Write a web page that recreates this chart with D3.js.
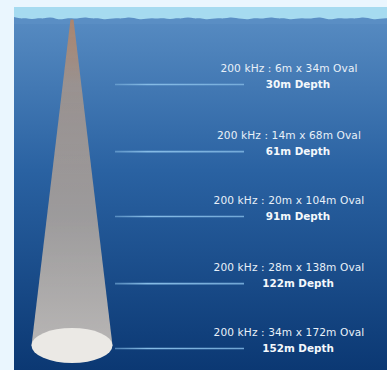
<!DOCTYPE html>
<html><head><meta charset="utf-8">
<script src="https://cdn.jsdelivr.net/npm/d3@7"></script>
<style>
html,body{margin:0;padding:0;background:#eaf6fe;}
svg{display:block;}
</style></head>
<body>
<script>
const depths = [30, 61, 91, 122, 152];
const ovalWidths = [6, 14, 20, 28, 34];
const ovalLengths = [34, 68, 104, 138, 172];
const frequency = "200 kHz";

const W = 387, H = 370;
const svg = d3.select("body").append("svg").attr("width", W).attr("height", H);
const defs = svg.append("defs");

const bg = defs.append("linearGradient").attr("id","sea").attr("x1",0).attr("y1",0).attr("x2",0).attr("y2",1);
bg.append("stop").attr("offset","0%").attr("stop-color","#5a8ec4");
bg.append("stop").attr("offset","45%").attr("stop-color","#2a62a2");
bg.append("stop").attr("offset","100%").attr("stop-color","#0b3873");

const beamG = defs.append("linearGradient").attr("id","beam").attr("x1",0).attr("y1",0).attr("x2",0).attr("y2",1);
beamG.append("stop").attr("offset","0%").attr("stop-color","#c0845a").attr("stop-opacity",0.8);
beamG.append("stop").attr("offset","20%").attr("stop-color","#a8968a").attr("stop-opacity",0.85);
beamG.append("stop").attr("offset","60%").attr("stop-color","#aaa29c").attr("stop-opacity",0.9);
beamG.append("stop").attr("offset","100%").attr("stop-color","#c6c0ba").attr("stop-opacity",0.92);

const lx1 = 115, lx2 = 244;
const lineG = defs.append("linearGradient").attr("id","lg").attr("gradientUnits","userSpaceOnUse")
  .attr("x1",lx1).attr("x2",lx2).attr("y1",0).attr("y2",0);
lineG.append("stop").attr("offset","0%").attr("stop-color","#7ab0dc").attr("stop-opacity",0.6);
lineG.append("stop").attr("offset","25%").attr("stop-color","#86bce6");
lineG.append("stop").attr("offset","100%").attr("stop-color","#80b6e2").attr("stop-opacity",0.85);

defs.append("filter").attr("id","blur").append("feGaussianBlur").attr("stdDeviation",0.6);

const x0 = 14, y0 = 7;
svg.append("rect").attr("x",x0).attr("y",y0).attr("width",W-x0).attr("height",H-y0).attr("fill","url(#sea)");

// surface band
svg.append("rect").attr("x",x0).attr("y",y0).attr("width",W-x0).attr("height",14).attr("fill","#a6dbf0");
const waveTop = [];
const bumps = [0,2,1,3,1,2,0,2,3,1,2,1,0,2,1,3,2,1,2,0,1,3,2,1,2,1,3,1,2,0,2,1,3,2,1,2,0,1,2,3,1,2,1,0,2,1,3,2,1,2,1,0,2,3,1,2,1,2,0,1,3,2,1,2,1];
bumps.forEach((b,i)=>waveTop.push([x0 + i*6, 17 + b*0.9]));
waveTop.push([W, 18]);
const area = d3.area().x(d=>d[0]).y0(24).y1(d=>d[1]).curve(d3.curveBasis);
svg.append("path").attr("d", area(waveTop)).attr("fill","#5a8ec4").attr("filter","url(#blur)");

const y = d3.scaleLinear().domain([0, 152]).range([19.6, 348.5]);
const cx = 72;
const rxScale = d3.scaleLinear().domain([0, 172]).range([0, 40.5]);

const lastI = depths.length - 1;
const ellY = y(depths[lastI]) - 3;
const ellRx = rxScale(ovalLengths[lastI]);
const ellRy = 17.5;

// beam cone
svg.append("path")
  .attr("d", `M${cx-1.5},${y(0)} L${cx+1.5},${y(0)} L${cx+ellRx},${ellY} L${cx-ellRx},${ellY} Z`)
  .attr("fill","url(#beam)").attr("filter","url(#blur)");

svg.append("ellipse").attr("cx",cx).attr("cy",ellY).attr("rx",ellRx).attr("ry",ellRy)
  .attr("fill","#ebe9e5").attr("filter","url(#blur)");

const g = svg.selectAll("g.lvl").data(depths).enter().append("g").attr("class","lvl");
g.append("line").attr("x1",lx1).attr("x2",lx2)
  .attr("y1",d=>y(d)).attr("y2",d=>y(d))
  .attr("stroke","url(#lg)").attr("stroke-width",1.6);
g.append("text").attr("x",289).attr("y",d=>y(d)-12.5)
  .attr("text-anchor","middle").attr("fill","#e8f0f8")
  .attr("font-family","DejaVu Sans").attr("font-size",10.6).attr("letter-spacing",0.1)
  .text((d,i)=>`${frequency} : ${ovalWidths[i]}m x ${ovalLengths[i]}m Oval`);
g.append("text").attr("x",298).attr("y",d=>y(d)+3.8)
  .attr("text-anchor","middle").attr("fill","#f4f8fc")
  .attr("font-family","DejaVu Sans").attr("font-weight","bold").attr("font-size",10.4).attr("letter-spacing",0)
  .text(d=>`${d}m Depth`);
</script>
</body></html>
